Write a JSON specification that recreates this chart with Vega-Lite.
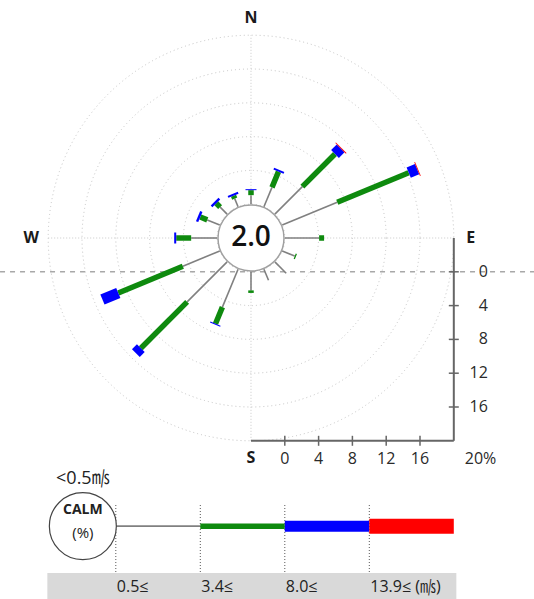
{
  "$schema": "https://vega.github.io/schema/vega-lite/v6.json",
  "width": 534,
  "height": 599,
  "padding": 0,
  "autosize": {"type": "none"},
  "background": "white",
  "config": {"view": {"stroke": null}, "font": "Open Sans, Noto Sans CJK KR"},
  "datasets": {
    "rays": [
      {"dir": "N", "angle": 0, "speed": "0.5-3.4", "p0": 0, "p1": 1.07},
      {"dir": "N", "angle": 0, "speed": "3.4-8.0", "p0": 1.07, "p1": 1.66},
      {"dir": "N", "angle": 0, "speed": "8.0-13.9", "p0": 1.66, "p1": 1.78},
      {"dir": "NNE", "angle": 22.5, "speed": "0.5-3.4", "p0": 0, "p1": 2.49},
      {"dir": "NNE", "angle": 22.5, "speed": "3.4-8.0", "p0": 2.49, "p1": 4.5},
      {"dir": "NNE", "angle": 22.5, "speed": "8.0-13.9", "p0": 4.5, "p1": 4.73},
      {"dir": "NE", "angle": 45, "speed": "0.5-3.4", "p0": 0, "p1": 4.6},
      {"dir": "NE", "angle": 45, "speed": "3.4-8.0", "p0": 4.6, "p1": 10.06},
      {"dir": "NE", "angle": 45, "speed": "8.0-13.9", "p0": 10.06, "p1": 11.0},
      {"dir": "NE", "angle": 45, "speed": "13.9+", "p0": 11.0, "p1": 11.1},
      {"dir": "ENE", "angle": 67.5, "speed": "0.5-3.4", "p0": 0, "p1": 7.05},
      {"dir": "ENE", "angle": 67.5, "speed": "3.4-8.0", "p0": 7.05, "p1": 16.2},
      {"dir": "ENE", "angle": 67.5, "speed": "8.0-13.9", "p0": 16.2, "p1": 17.28},
      {"dir": "ENE", "angle": 67.5, "speed": "13.9+", "p0": 17.28, "p1": 17.38},
      {"dir": "E", "angle": 90, "speed": "0.5-3.4", "p0": 0, "p1": 4.06},
      {"dir": "E", "angle": 90, "speed": "3.4-8.0", "p0": 4.06, "p1": 4.65},
      {"dir": "ESE", "angle": 112.5, "speed": "0.5-3.4", "p0": 0, "p1": 1.6},
      {"dir": "ESE", "angle": 112.5, "speed": "3.4-8.0", "p0": 1.6, "p1": 1.75},
      {"dir": "SE", "angle": 135, "speed": "0.5-3.4", "p0": 0, "p1": 1.89},
      {"dir": "SSE", "angle": 157.5, "speed": "0.5-3.4", "p0": 0, "p1": 1.42},
      {"dir": "S", "angle": 180, "speed": "0.5-3.4", "p0": 0, "p1": 2.2},
      {"dir": "S", "angle": 180, "speed": "3.4-8.0", "p0": 2.2, "p1": 2.5},
      {"dir": "SSW", "angle": 202.5, "speed": "0.5-3.4", "p0": 0, "p1": 4.85},
      {"dir": "SSW", "angle": 202.5, "speed": "3.4-8.0", "p0": 4.85, "p1": 6.98},
      {"dir": "SSW", "angle": 202.5, "speed": "8.0-13.9", "p0": 6.98, "p1": 7.1},
      {"dir": "SW", "angle": 225, "speed": "0.5-3.4", "p0": 0, "p1": 6.69},
      {"dir": "SW", "angle": 225, "speed": "3.4-8.0", "p0": 6.69, "p1": 14.44},
      {"dir": "SW", "angle": 225, "speed": "8.0-13.9", "p0": 14.44, "p1": 15.27},
      {"dir": "WSW", "angle": 247.5, "speed": "0.5-3.4", "p0": 0, "p1": 4.73},
      {"dir": "WSW", "angle": 247.5, "speed": "3.4-8.0", "p0": 4.73, "p1": 13.0},
      {"dir": "WSW", "angle": 247.5, "speed": "8.0-13.9", "p0": 13.0, "p1": 15.03},
      {"dir": "W", "angle": 270, "speed": "0.5-3.4", "p0": 0, "p1": 3.08},
      {"dir": "W", "angle": 270, "speed": "3.4-8.0", "p0": 3.08, "p1": 4.85},
      {"dir": "W", "angle": 270, "speed": "8.0-13.9", "p0": 4.85, "p1": 5.09},
      {"dir": "WNW", "angle": 292.5, "speed": "0.5-3.4", "p0": 0, "p1": 1.6},
      {"dir": "WNW", "angle": 292.5, "speed": "3.4-8.0", "p0": 1.6, "p1": 2.49},
      {"dir": "WNW", "angle": 292.5, "speed": "8.0-13.9", "p0": 2.49, "p1": 2.78},
      {"dir": "NW", "angle": 315, "speed": "0.5-3.4", "p0": 0, "p1": 1.17},
      {"dir": "NW", "angle": 315, "speed": "3.4-8.0", "p0": 1.17, "p1": 1.81},
      {"dir": "NW", "angle": 315, "speed": "8.0-13.9", "p0": 1.81, "p1": 2.09},
      {"dir": "NNW", "angle": 337.5, "speed": "0.5-3.4", "p0": 0, "p1": 1.04},
      {"dir": "NNW", "angle": 337.5, "speed": "3.4-8.0", "p0": 1.04, "p1": 1.41},
      {"dir": "NNW", "angle": 337.5, "speed": "8.0-13.9", "p0": 1.41, "p1": 1.66}
    ],
    "grid": [{"pct": 0}, {"pct": 4}, {"pct": 8}, {"pct": 12}, {"pct": 16}, {"pct": 20}],
    "ticks": [{"pct": 0}, {"pct": 4}, {"pct": 8}, {"pct": 12}, {"pct": 16}],
    "compass": [
      {"label": "N", "angle": 0},
      {"label": "E", "angle": 90},
      {"label": "S", "angle": 180},
      {"label": "W", "angle": 270}
    ],
    "calm": [{"calm": 2.0}],
    "legend": [
      {"speed": "0.5-3.4", "lo": -16, "hi": -6, "label": "0.5≤"},
      {"speed": "3.4-8.0", "lo": -6, "hi": 4, "label": "3.4≤"},
      {"speed": "8.0-13.9", "lo": 4, "hi": 14, "label": "8.0≤"},
      {"speed": "13.9+", "lo": 14, "hi": 24, "label": "13.9≤ (㎧)"}
    ]
  },
  "layer": [
    {
      "data": {"values": [{}]},
      "mark": {"type": "rect", "color": "#d9d9d9"},
      "encoding": {
        "x": {"datum": -24.1, "type": "quantitative", "scale": {"domain": [-29.704, 33.491], "nice": false, "zero": false}, "axis": null},
        "x2": {"datum": 24.3},
        "y": {"datum": -39.64, "type": "quantitative", "scale": {"domain": [-42.722, 28.166], "nice": false, "zero": false}, "axis": null},
        "y2": {"datum": -43.5}
      }
    },
    {
      "data": {"name": "grid"},
      "transform": [{"calculate": "datum.pct + 4", "as": "r"}],
      "mark": {"type": "point", "shape": "circle", "filled": false, "color": "#c4c4c4", "strokeWidth": 1, "strokeDash": [1, 3], "opacity": 1},
      "encoding": {
        "x": {"datum": 0, "type": "quantitative", "scale": {"domain": [-29.704, 33.491], "nice": false, "zero": false}, "axis": null},
        "y": {"datum": 0, "type": "quantitative", "scale": {"domain": [-42.722, 28.166], "nice": false, "zero": false}, "axis": null},
        "size": {"field": "r", "type": "quantitative", "scale": {"type": "pow", "exponent": 2, "domain": [0, 24], "range": [0, 164511]}, "legend": null}
      }
    },
    {
      "data": {"values": [{}]},
      "mark": {"type": "rule", "color": "#c8c8c8", "strokeWidth": 1, "strokeDash": [1, 2]},
      "encoding": {
        "x": {"datum": 0, "type": "quantitative", "scale": {"domain": [-29.704, 33.491], "nice": false, "zero": false}, "axis": null},
        "y": {"datum": -24, "type": "quantitative", "scale": {"domain": [-42.722, 28.166], "nice": false, "zero": false}, "axis": null},
        "y2": {"datum": 24}
      }
    },
    {
      "data": {"values": [{}]},
      "mark": {"type": "rule", "color": "#c8c8c8", "strokeWidth": 1, "strokeDash": [1, 2]},
      "encoding": {
        "x": {"datum": -24, "type": "quantitative", "scale": {"domain": [-29.704, 33.491], "nice": false, "zero": false}, "axis": null},
        "x2": {"datum": 24},
        "y": {"datum": 0, "type": "quantitative", "scale": {"domain": [-42.722, 28.166], "nice": false, "zero": false}, "axis": null}
      }
    },
    {
      "data": {"values": [{}]},
      "mark": {"type": "rule", "color": "#a8a8a8", "strokeWidth": 1.5, "strokeDash": [5, 5]},
      "encoding": {
        "x": {"datum": -29.7, "type": "quantitative", "scale": {"domain": [-29.704, 33.491], "nice": false, "zero": false}, "axis": null},
        "x2": {"datum": 33.5},
        "y": {"datum": -4, "type": "quantitative", "scale": {"domain": [-42.722, 28.166], "nice": false, "zero": false}, "axis": null}
      }
    },
    {
      "data": {"values": [{}]},
      "mark": {"type": "rule", "color": "#666666", "strokeWidth": 2},
      "encoding": {
        "x": {"datum": 24, "type": "quantitative", "scale": {"domain": [-29.704, 33.491], "nice": false, "zero": false}, "axis": null},
        "y": {"datum": 0, "type": "quantitative", "scale": {"domain": [-42.722, 28.166], "nice": false, "zero": false}, "axis": null},
        "y2": {"datum": -24}
      }
    },
    {
      "data": {"values": [{}]},
      "mark": {"type": "rule", "color": "#666666", "strokeWidth": 2},
      "encoding": {
        "x": {"datum": 0, "type": "quantitative", "scale": {"domain": [-29.704, 33.491], "nice": false, "zero": false}, "axis": null},
        "x2": {"datum": 24},
        "y": {"datum": -24, "type": "quantitative", "scale": {"domain": [-42.722, 28.166], "nice": false, "zero": false}, "axis": null}
      }
    },
    {
      "data": {"name": "ticks"},
      "transform": [{"calculate": "-(datum.pct + 4)", "as": "ty"}],
      "mark": {"type": "tick", "orient": "horizontal", "color": "#666666", "size": 10, "thickness": 1.5, "opacity": 1},
      "encoding": {
        "x": {"datum": 24, "type": "quantitative", "scale": {"domain": [-29.704, 33.491], "nice": false, "zero": false}, "axis": null},
        "y": {"field": "ty", "type": "quantitative", "scale": {"domain": [-42.722, 28.166], "nice": false, "zero": false}, "axis": null}
      }
    },
    {
      "data": {"name": "ticks"},
      "transform": [{"calculate": "datum.pct + 4", "as": "tx"}],
      "mark": {"type": "tick", "orient": "vertical", "color": "#666666", "size": 10, "thickness": 1.5, "opacity": 1},
      "encoding": {
        "x": {"field": "tx", "type": "quantitative", "scale": {"domain": [-29.704, 33.491], "nice": false, "zero": false}, "axis": null},
        "y": {"datum": -24, "type": "quantitative", "scale": {"domain": [-42.722, 28.166], "nice": false, "zero": false}, "axis": null}
      }
    },
    {
      "data": {"name": "ticks"},
      "transform": [{"calculate": "-(datum.pct + 4)", "as": "ty"}],
      "mark": {"type": "text", "align": "right", "baseline": "middle", "dx": 34, "fontSize": 16, "color": "#2a2a2a"},
      "encoding": {
        "x": {"datum": 24, "type": "quantitative", "scale": {"domain": [-29.704, 33.491], "nice": false, "zero": false}, "axis": null},
        "y": {"field": "ty", "type": "quantitative", "scale": {"domain": [-42.722, 28.166], "nice": false, "zero": false}, "axis": null},
        "text": {"field": "pct", "type": "quantitative"}
      }
    },
    {
      "data": {"name": "ticks"},
      "transform": [{"calculate": "datum.pct + 4", "as": "tx"}],
      "mark": {"type": "text", "align": "center", "baseline": "middle", "dy": 18, "fontSize": 16, "color": "#2a2a2a"},
      "encoding": {
        "x": {"field": "tx", "type": "quantitative", "scale": {"domain": [-29.704, 33.491], "nice": false, "zero": false}, "axis": null},
        "y": {"datum": -24, "type": "quantitative", "scale": {"domain": [-42.722, 28.166], "nice": false, "zero": false}, "axis": null},
        "text": {"field": "pct", "type": "quantitative"}
      }
    },
    {
      "data": {"values": [{"label": "20%"}]},
      "mark": {"type": "text", "align": "left", "baseline": "middle", "dx": 11, "dy": 18, "fontSize": 16, "color": "#2a2a2a"},
      "encoding": {
        "x": {"datum": 24, "type": "quantitative", "scale": {"domain": [-29.704, 33.491], "nice": false, "zero": false}, "axis": null},
        "y": {"datum": -24, "type": "quantitative", "scale": {"domain": [-42.722, 28.166], "nice": false, "zero": false}, "axis": null},
        "text": {"field": "label"}
      }
    },
    {
      "data": {"name": "rays"},
      "transform": [
        {"calculate": "(datum.p0 + 4) * sin(datum.angle * PI / 180)", "as": "x"},
        {"calculate": "(datum.p0 + 4) * cos(datum.angle * PI / 180)", "as": "y"},
        {"calculate": "(datum.p1 + 4) * sin(datum.angle * PI / 180)", "as": "x2"},
        {"calculate": "(datum.p1 + 4) * cos(datum.angle * PI / 180)", "as": "y2"}
      ],
      "mark": {"type": "rule", "strokeCap": "butt"},
      "encoding": {
        "x": {"field": "x", "type": "quantitative", "scale": {"domain": [-29.704, 33.491], "nice": false, "zero": false}, "axis": null},
        "y": {"field": "y", "type": "quantitative", "scale": {"domain": [-42.722, 28.166], "nice": false, "zero": false}, "axis": null},
        "x2": {"field": "x2"},
        "y2": {"field": "y2"},
        "color": {"field": "speed", "type": "nominal", "scale": {"domain": ["0.5-3.4", "3.4-8.0", "8.0-13.9", "13.9+"], "range": ["#808080", "#0e8a0e", "#0000ff", "#ff0000"]}, "legend": null},
        "strokeWidth": {"field": "speed", "type": "ordinal", "scale": {"type": "ordinal", "domain": ["0.5-3.4", "3.4-8.0", "8.0-13.9", "13.9+"], "range": [1.6, 5.5, 11, 15]}, "legend": null}
      }
    },
    {
      "data": {"values": [{}]},
      "mark": {"type": "point", "shape": "circle", "filled": true, "fill": "white", "stroke": "#a0a0a0", "strokeWidth": 1.5, "size": 4356, "opacity": 1},
      "encoding": {
        "x": {"datum": 0, "type": "quantitative", "scale": {"domain": [-29.704, 33.491], "nice": false, "zero": false}, "axis": null},
        "y": {"datum": 0, "type": "quantitative", "scale": {"domain": [-42.722, 28.166], "nice": false, "zero": false}, "axis": null}
      }
    },
    {
      "data": {"name": "calm"},
      "mark": {"type": "text", "align": "center", "baseline": "middle", "fontSize": 28, "fontWeight": 600, "color": "#111111"},
      "encoding": {
        "x": {"datum": 0, "type": "quantitative", "scale": {"domain": [-29.704, 33.491], "nice": false, "zero": false}, "axis": null},
        "y": {"datum": 0, "type": "quantitative", "scale": {"domain": [-42.722, 28.166], "nice": false, "zero": false}, "axis": null},
        "text": {"field": "calm", "type": "quantitative", "format": ".1f"}
      }
    },
    {
      "data": {"name": "compass"},
      "transform": [
        {"calculate": "26 * sin(datum.angle * PI / 180)", "as": "cx"},
        {"calculate": "26 * cos(datum.angle * PI / 180)", "as": "cy"}
      ],
      "mark": {"type": "text", "align": "center", "baseline": "middle", "fontSize": 16, "fontWeight": "bold", "color": "#1a1a1a"},
      "encoding": {
        "x": {"field": "cx", "type": "quantitative", "scale": {"domain": [-29.704, 33.491], "nice": false, "zero": false}, "axis": null},
        "y": {"field": "cy", "type": "quantitative", "scale": {"domain": [-42.722, 28.166], "nice": false, "zero": false}, "axis": null},
        "text": {"field": "label"}
      }
    },
    {
      "data": {"name": "legend"},
      "mark": {"type": "rule", "color": "#555555", "strokeWidth": 1, "strokeDash": [1, 2]},
      "encoding": {
        "x": {"field": "lo", "type": "quantitative", "scale": {"domain": [-29.704, 33.491], "nice": false, "zero": false}, "axis": null},
        "y": {"datum": -31.6, "type": "quantitative", "scale": {"domain": [-42.722, 28.166], "nice": false, "zero": false}, "axis": null},
        "y2": {"datum": -39.6}
      }
    },
    {
      "data": {"name": "legend"},
      "mark": {"type": "rule", "strokeCap": "butt"},
      "encoding": {
        "x": {"field": "lo", "type": "quantitative", "scale": {"domain": [-29.704, 33.491], "nice": false, "zero": false}, "axis": null},
        "x2": {"field": "hi"},
        "y": {"datum": -34.1, "type": "quantitative", "scale": {"domain": [-42.722, 28.166], "nice": false, "zero": false}, "axis": null},
        "color": {"field": "speed", "type": "nominal", "scale": {"domain": ["0.5-3.4", "3.4-8.0", "8.0-13.9", "13.9+"], "range": ["#808080", "#0e8a0e", "#0000ff", "#ff0000"]}, "legend": null},
        "strokeWidth": {"field": "speed", "type": "ordinal", "scale": {"type": "ordinal", "domain": ["0.5-3.4", "3.4-8.0", "8.0-13.9", "13.9+"], "range": [1.6, 5.5, 11, 15]}, "legend": null}
      }
    },
    {
      "data": {"name": "legend"},
      "mark": {"type": "text", "align": "left", "baseline": "middle", "dx": 1, "fontSize": 16, "color": "#222222"},
      "encoding": {
        "x": {"field": "lo", "type": "quantitative", "scale": {"domain": [-29.704, 33.491], "nice": false, "zero": false}, "axis": null},
        "y": {"datum": -41.3, "type": "quantitative", "scale": {"domain": [-42.722, 28.166], "nice": false, "zero": false}, "axis": null},
        "text": {"field": "label"}
      }
    },
    {
      "data": {"values": [{}]},
      "mark": {"type": "point", "shape": "circle", "filled": true, "fill": "white", "stroke": "#444444", "strokeWidth": 1.2, "size": 4489, "opacity": 1},
      "encoding": {
        "x": {"datum": -19.9, "type": "quantitative", "scale": {"domain": [-29.704, 33.491], "nice": false, "zero": false}, "axis": null},
        "y": {"datum": -34.1, "type": "quantitative", "scale": {"domain": [-42.722, 28.166], "nice": false, "zero": false}, "axis": null}
      }
    },
    {
      "data": {"values": [{"t": "<0.5㎧", "ty": -28.5}]},
      "mark": {"type": "text", "align": "center", "baseline": "middle", "fontSize": 18, "color": "#222222"},
      "encoding": {
        "x": {"datum": -19.9, "type": "quantitative", "scale": {"domain": [-29.704, 33.491], "nice": false, "zero": false}, "axis": null},
        "y": {"field": "ty", "type": "quantitative", "scale": {"domain": [-42.722, 28.166], "nice": false, "zero": false}, "axis": null},
        "text": {"field": "t"}
      }
    },
    {
      "data": {"values": [{"t": "(%)", "ty": -34.9}]},
      "mark": {"type": "text", "align": "center", "baseline": "middle", "fontSize": 15, "color": "#222222"},
      "encoding": {
        "x": {"datum": -19.9, "type": "quantitative", "scale": {"domain": [-29.704, 33.491], "nice": false, "zero": false}, "axis": null},
        "y": {"field": "ty", "type": "quantitative", "scale": {"domain": [-42.722, 28.166], "nice": false, "zero": false}, "axis": null},
        "text": {"field": "t"}
      }
    },
    {
      "data": {"values": [{"t": "CALM", "ty": -32.2}]},
      "mark": {"type": "text", "align": "center", "baseline": "middle", "fontSize": 14, "fontWeight": "bold", "color": "#222222"},
      "encoding": {
        "x": {"datum": -19.9, "type": "quantitative", "scale": {"domain": [-29.704, 33.491], "nice": false, "zero": false}, "axis": null},
        "y": {"field": "ty", "type": "quantitative", "scale": {"domain": [-42.722, 28.166], "nice": false, "zero": false}, "axis": null},
        "text": {"field": "t"}
      }
    }
  ]
}
